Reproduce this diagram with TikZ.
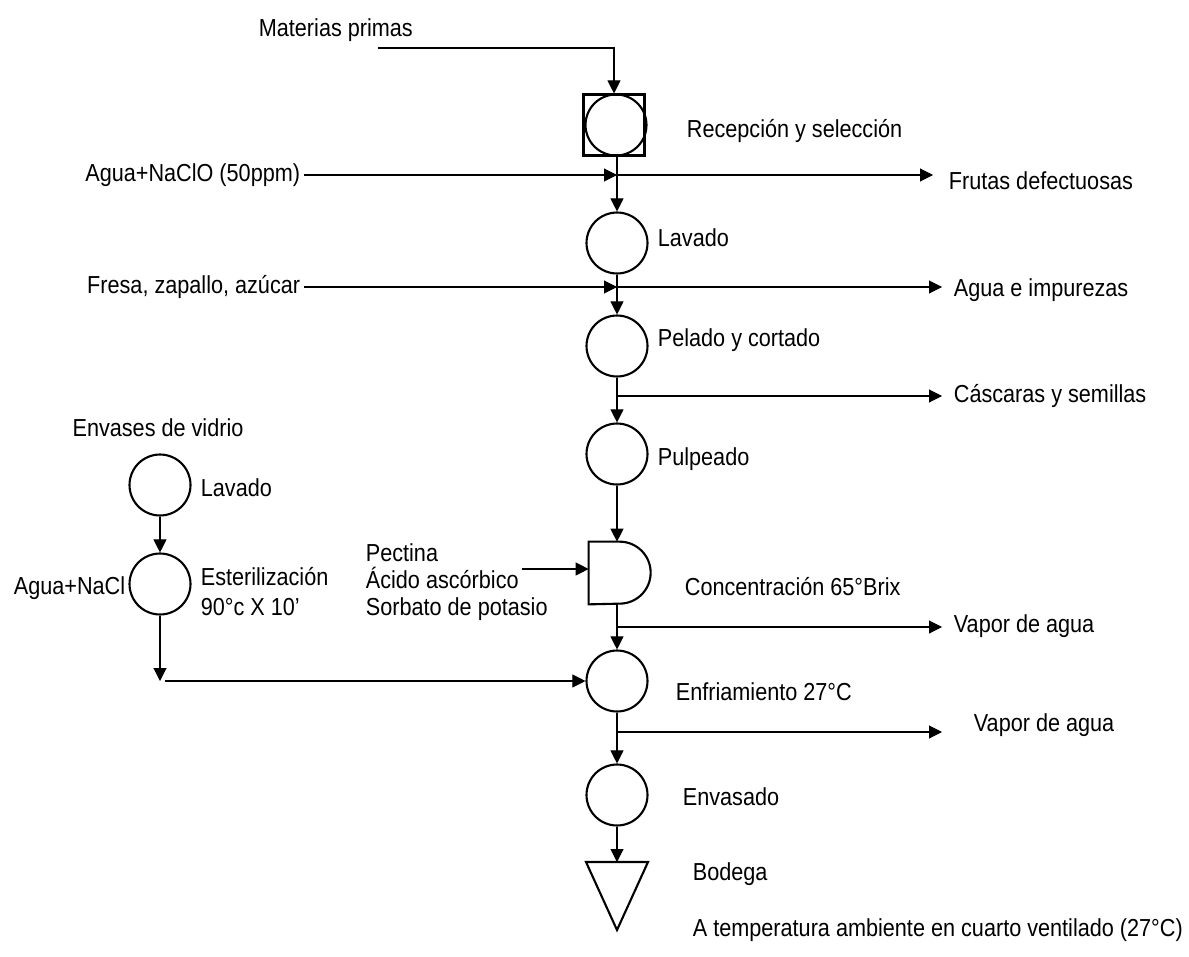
\documentclass[tikz,border=0pt]{standalone}
\usepackage{fontspec}
\setmainfont{Liberation Sans}[FakeStretch=0.88]
\usetikzlibrary{arrows.meta,positioning}

\begin{document}
\begin{tikzpicture}[x=0.02cm,y=-0.02cm]
\tikzstyle{every node}+=[inner sep=2pt, font=\fontsize{14}{15.4}\selectfont]
\tikzstyle{proc}=[draw, circle, line width=1.2pt, minimum size=1.22cm, inner sep=0pt]
\tikzstyle{flow}=[line width=0.6pt, -{Triangle[length=2.6mm,width=2.6mm]}]
\tikzstyle{wire}=[line width=0.6pt]
\tikzstyle{txt}=[anchor=west]
\useasboundingbox (0,0) rectangle (1189,956);
% main line
\node[draw, line width=1.2pt, minimum size=1.22cm, inner sep=0pt] (box) at (614,125) {};
\node[proc] (recep) at (616,125) {};
\node[proc] (lav) at (617,243) {};
\node[proc] (pel) at (617,346) {};
\node[proc] (pul) at (617,454) {};
\node[minimum width=1.24cm, minimum height=1.24cm, inner sep=0pt] (conc) at (620,573) {};
\draw[line width=1.2pt] (conc.north west) -- ++(31,0) arc[start angle=90, end angle=-90, radius=0.62cm] -- (conc.south west) -- cycle;
\node[proc] (enf) at (617,681) {};
\node[proc] (env) at (617,795) {};
\coordinate (bod) at (617,862);
\draw[line width=1.2pt] (bod) ++(-31,0) -- ++(62,0) -- ++(-31,68) -- cycle;
% labels
\node[txt] (mp) at (255,30) {Materias primas};
\node[txt] at (683,131) {Recepción y selección};
\node[anchor=east] (agua) at (304,175) {Agua+NaClO (50ppm)};
\node[txt] at (945,181) {Frutas defectuosas};
\node[txt] at (654,238) {Lavado};
\node[anchor=east] (fresa) at (304,287) {Fresa, zapallo, azúcar};
\node[txt] at (950,290) {Agua e impurezas};
\node[txt] at (654,340) {Pelado y cortado};
\node[txt] at (950,396) {Cáscaras y semillas};
\node[txt] at (654,459) {Pulpeado};
\node[txt, align=left] (adit) at (362,582) {Pectina\\Ácido ascórbico\\Sorbato de potasio};
\node[txt] at (681,587) {Concentración 65°Brix};
\node[txt] at (950,626) {Vapor de agua};
\node[txt] at (672,692) {Enfriamiento 27°C};
\node[txt] at (970,725) {Vapor de agua};
\node[txt] at (679,797) {Envasado};
\node[txt] at (689,874) {Bodega};
\node[txt] at (689,930) {A temperatura ambiente en cuarto ventilado (27°C)};
% envases
\node (envi) at (158,428) {Envases de vidrio};
\node[proc] (lav2) at (160,485) {};
\node[txt] at (197,488) {Lavado};
\node[proc] (est) at (160,584) {};
\node[anchor=east] at (129,588) {Agua+NaCl};
\node[txt] at (197,577) {Esterilización};
\node[txt] at (197,607) {90°c X 10’};
% free ends
\coordinate (m0) at (378,48);
\coordinate (o1) at (933,175);
\coordinate (o2) at (942,287);
\coordinate (o3) at (942,396);
\coordinate (o4) at (942,627);
\coordinate (o5) at (942,732);
\coordinate (pe) at (522,569);
\coordinate (j) at (160,681);
% connectors
\draw[flow] (m0) -| (box.north);
\draw[flow] (box.south -| lav.north) -- (lav.north);
\draw[flow] (agua.east) -- (agua.east -| lav.north);
\draw[flow] (agua.east -| lav.north) -- (o1);
\draw[flow] (lav.south) -- (pel.north);
\draw[flow] (fresa.east) -- (fresa.east -| lav.south);
\draw[flow] (fresa.east -| lav.south) -- (o2);
\draw[flow] (pel.south) -- (pul.north);
\draw[flow] (pel.south |- o3) -- (o3);
\draw[flow] (pul.south) -- (pul.south |- conc.north);
\draw[flow] (pe) -- (pe -| conc.west);
\draw[flow] (pul.south |- conc.south) -- (enf.north);
\draw[flow] (enf.north |- o4) -- (o4);
\draw[flow] (enf.south) -- (env.north);
\draw[flow] (enf.south |- o5) -- (o5);
\draw[flow] (env.south) -- (bod);
\draw[flow] (lav2.south) -- (est.north);
\draw[flow] (est.south) -- (j);
\draw[flow] ([xshift=0.1cm]j) -- (enf.west);
\end{tikzpicture}
\end{document}
